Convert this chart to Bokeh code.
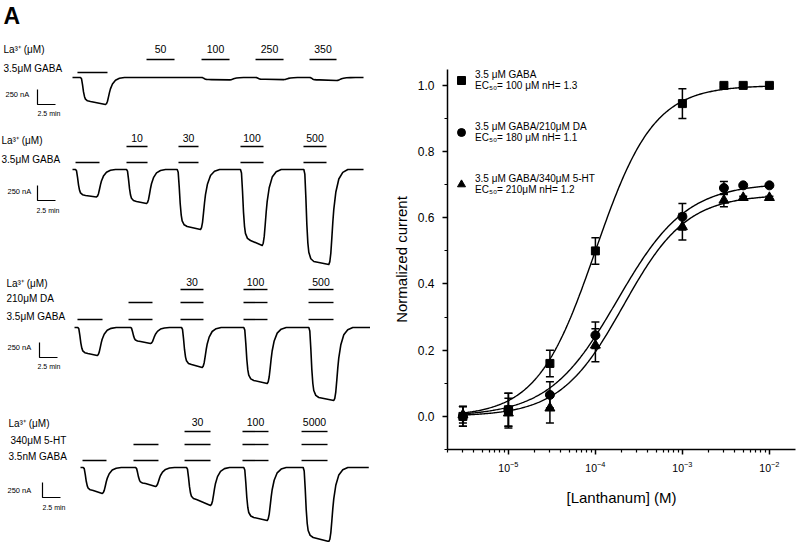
import numpy as np
from bokeh.plotting import figure
from bokeh.models import (Range1d, ColumnDataSource, Whisker, TeeHead, Legend, LegendItem,
                          FixedTicker, SingleIntervalTicker, PrintfTickFormatter, Label)
from bokeh.layouts import row
from bokeh.embed import file_html
from bokeh.resources import INLINE

FONT = "Liberation Sans"

# ---------------- Panel B data (dose-response) ----------------
LA_CONC_M = [3e-6, 1e-5, 3e-5, 1e-4, 1e-3, 3e-3, 5e-3, 1e-2]
GABA_MEAN = [0.00, 0.02, 0.16, 0.50, 0.945, 1.00, 1.00, 1.00]
GABA_SEM = [0.03, 0.05, 0.04, 0.04, 0.045, 0.004, 0.004, 0.004]
DA_MEAN = [0.00, 0.02, 0.065, 0.245, 0.603, 0.69, 0.698, 0.698]
DA_SEM = [0.03, 0.05, 0.04, 0.04, 0.04, 0.02, 0.004, 0.004]
HT_MEAN = [0.005, 0.01, 0.025, 0.215, 0.573, 0.653, 0.661, 0.661]
HT_SEM = [0.025, 0.045, 0.045, 0.05, 0.04, 0.02, 0.004, 0.004]

FIT_EC50_M = [100e-6, 180e-6, 210e-6]
FIT_NH = [1.3, 1.1, 1.2]
FIT_IMAX = [1.0, 0.705, 0.67]
SERIES_MARKERS = ["square", "circle", "triangle"]
LEGEND_LABELS = [
    "3.5 \u03bcM GABA\nEC\u2085\u2080= 100 \u03bcM nH= 1.3",
    "3.5 \u03bcM GABA/210\u03bcM DA\nEC\u2085\u2080= 180 \u03bcM nH= 1.1",
    "3.5 \u03bcM GABA/340\u03bcM 5-HT\nEC\u2085\u2080= 210\u03bcM nH= 1.2",
]
X_TICKS = [1e-5, 1e-4, 1e-3, 1e-2]

# ---------------- Panel A data (current traces) ----------------
# time in minutes, current amplitude in nA (inward, drawn downward)
TRACE_START_MIN = [0.0, 0.0, 0.28, 1.11]
TRACE_END_MIN = [40.42, 40.42, 41.63, 41.15]
RESP_ONSET_MIN = [
    [1.11, 10.28, 17.92, 25.42, 32.92],
    [0.42, 7.50, 14.54, 23.33, 32.13],
    [0.74, 8.06, 15.14, 23.79, 32.82],
    [1.49, 8.75, 15.83, 23.79, 32.04],
]
RESP_END_MIN = [
    [4.58, 14.17, 21.81, 29.31, 36.67],
    [3.33, 10.28, 17.78, 26.35, 35.60],
    [3.43, 10.83, 18.01, 27.04, 36.29],
    [4.13, 11.53, 19.17, 27.04, 35.60],
]
RESP_PEAK_EARLY_NA = [
    [400, 0, 35, 30, 40],
    [433, 533, 950, 1183, 1533],
    [433, 233, 617, 883, 1167],
    [383, 267, 533, 833, 1167],
]
RESP_PEAK_LATE_NA = [
    [450, 0, 40, 35, 50],
    [458, 567, 1000, 1267, 1583],
    [467, 267, 667, 933, 1217],
    [433, 317, 633, 883, 1233],
]
# normalised response kinetics
ONSET_DT_MIN = [0, 0.14, 0.28, 0.42, 0.56, 0.69, 0.97, 1.39]
ONSET_FRAC = [0, 0.05, 0.3, 0.6, 0.8, 0.9, 0.97, 1.0]
WASH_DT_MIN = [0.14, 0.28, 0.42, 0.56, 0.69, 0.97, 1.39, 1.94, 2.64]
WASH_FRAC = [0.97, 0.88, 0.72, 0.55, 0.42, 0.24, 0.10, 0.03, 0.0]

# drug application bars (start, end) in minutes
GABA_BARS_MIN = [
    [(0.69, 4.86)],
    [(0.42, 3.75), (7.50, 10.42), (14.72, 17.50), (23.33, 26.53), (32.08, 35.28)],
    [(0.69, 4.17), (7.78, 11.11), (15.00, 18.19), (23.75, 27.08), (32.78, 36.25)],
    [(1.39, 4.72), (8.47, 11.94), (15.56, 19.17), (23.61, 27.22), (31.81, 35.42)],
]
MOD_BARS_MIN = [
    [],
    [],
    [(7.78, 11.11), (15.00, 18.19), (23.75, 27.08), (32.78, 36.25)],
    [(8.47, 11.94), (15.56, 19.17), (23.61, 27.22), (31.81, 35.42)],
]
LA_BARS_MIN = [
    [(10.28, 14.17), (17.92, 21.81), (25.42, 29.31), (32.92, 36.67)],
    [(7.50, 10.42), (14.72, 17.50), (23.33, 26.53), (32.08, 35.28)],
    [(15.00, 18.19), (23.75, 27.08), (32.78, 36.25)],
    [(15.56, 19.17), (23.61, 27.22), (31.81, 35.42)],
]
LA_DOSE_LABELS = [
    ["50", "100", "250", "350"],
    ["10", "30", "100", "500"],
    ["30", "100", "500"],
    ["30", "100", "5000"],
]
ROW_LABELS = [
    ["La\u00b3\u207a (\u03bcM)", "3.5\u03bcM GABA"],
    ["La\u00b3\u207a (\u03bcM)", "3.5\u03bcM GABA"],
    ["La\u00b3\u207a (\u03bcM)", "210\u03bcM DA", "3.5\u03bcM GABA"],
    ["La\u00b3\u207a (\u03bcM)", "340\u03bcM 5-HT", "3.5nM GABA"],
]
SCALE_NA = 250
SCALE_MIN = 2.5
SCALE_TEXT = ["250 nA", "2.5 min"]

# ---------------- layout (page pixels) ----------------
PX_PER_MIN = 7.2
NA_PER_PX = 16.667
T0_PX = 72


def X(px):
    return (px - T0_PX) / PX_PER_MIN


def Y(py):
    return -py * NA_PER_PX


ROW_BASE_PY = [77, 169, 327, 467]
GABA_BAR_PY = [72, 162, 319, 460]
MOD_BAR_PY = [None, None, 302, 444]
LA_BAR_PY = [59, 146, 289, 431]
DOSE_LABEL_PY = [48, 137, 281, 421]
ROW_LABEL_POS = [
    [(3, 49), (3, 68)],
    [(1, 140), (1, 159)],
    [(6, 283), (6, 298), (6, 316)],
    [(8, 423), (10, 440), (8, 456)],
]
SCALEBAR_PX = [(37, 104), (37, 200), (39, 357), (42, 497)]
SCALE_NA_LABEL = [(5, 94), (7, 191), (7, 347), (7, 490)]
SCALE_MIN_LABEL = [(37, 113), (36, 210), (37, 366), (42, 507)]


def add_text(p, x, y, text, size, align="left", baseline="middle", bold=False, **kw):
    p.add_layout(Label(x=x, y=y, text=text, text_font=FONT, text_font_size=size,
                       text_align=align, text_baseline=baseline, text_color="black",
                       text_font_style="bold" if bold else "normal", **kw))


# ================= Panel A =================
W_A, W_B, H = 370, 426, 542
pA = figure(width=W_A, height=H, x_range=Range1d(X(0), X(W_A)), y_range=Range1d(Y(H), Y(0)),
            x_axis_type=None, y_axis_type=None, toolbar_location=None, output_backend="svg",
            min_border=0, outline_line_color=None)
pA.frame_align = False

add_text(pA, X(3), Y(2), "A", "23px", baseline="top", bold=True)

for r in range(4):
    # trace
    ts, cs = [TRACE_START_MIN[r]], [0.0]
    for on, off, a, b in zip(RESP_ONSET_MIN[r], RESP_END_MIN[r],
                             RESP_PEAK_EARLY_NA[r], RESP_PEAK_LATE_NA[r]):
        if a == 0 and b == 0:
            continue
        for dt, f in zip(ONSET_DT_MIN, ONSET_FRAC):
            ts.append(on + dt)
            cs.append(-a * f)
        ts.append(off)
        cs.append(-b)
        for dt, f in zip(WASH_DT_MIN, WASH_FRAC):
            ts.append(off + dt)
            cs.append(-b * f)
    ts.append(TRACE_END_MIN[r])
    cs.append(0.0)
    base = Y(ROW_BASE_PY[r])
    pA.line(np.array(ts), base + np.array(cs), line_color="black", line_width=1.6,
            line_join="round")

    # application bars
    x0s, x1s, ys = [], [], []
    for bars, lev in ((GABA_BARS_MIN[r], GABA_BAR_PY[r]), (MOD_BARS_MIN[r], MOD_BAR_PY[r]),
                      (LA_BARS_MIN[r], LA_BAR_PY[r])):
        for s, e in bars:
            x0s.append(s)
            x1s.append(e)
            ys.append(Y(lev))
    pA.segment(x0=x0s, y0=ys, x1=x1s, y1=ys, line_color="black", line_width=1.4)

    # dose labels over La bars
    for (s, e), lab in zip(LA_BARS_MIN[r], LA_DOSE_LABELS[r]):
        add_text(pA, (s + e) / 2, Y(DOSE_LABEL_PY[r]), lab, "10.5px", align="center")

    # row labels
    for (lx, ly), lab in zip(ROW_LABEL_POS[r], ROW_LABELS[r]):
        add_text(pA, X(lx), Y(ly), lab, "10px")

    # scale bar
    sx, sy = SCALEBAR_PX[r]
    x0, y0 = X(sx), Y(sy)
    pA.line([x0, x0, x0 + SCALE_MIN], [y0 + SCALE_NA, y0, y0], line_color="black",
            line_width=1.2)
    add_text(pA, X(SCALE_NA_LABEL[r][0]), Y(SCALE_NA_LABEL[r][1]), SCALE_TEXT[0], "7.5px")
    add_text(pA, X(SCALE_MIN_LABEL[r][0]), Y(SCALE_MIN_LABEL[r][1]), SCALE_TEXT[1], "7px")

# ================= Panel B =================
X_LO, X_HI = 10 ** -5.70, 10 ** -1.70
pB = figure(width=W_B, height=H, x_axis_type="log",
            x_range=Range1d(X_LO, X_HI), y_range=Range1d(-0.1, 1.048),
            toolbar_location=None, output_backend="svg",
            min_border_left=77, min_border_right=1, min_border_top=69, min_border_bottom=93,
            outline_line_color=None)
pB.frame_align = False
pB.grid.visible = False

conc = np.array(LA_CONC_M)
curve_c = np.logspace(np.log10(LA_CONC_M[0]), np.log10(LA_CONC_M[-1]), 300)
renderers = []
for mean, sem, ec50, nh, imax, mk in zip((GABA_MEAN, DA_MEAN, HT_MEAN),
                                         (GABA_SEM, DA_SEM, HT_SEM),
                                         FIT_EC50_M, FIT_NH, FIT_IMAX, SERIES_MARKERS):
    fit = imax / (1.0 + (ec50 / curve_c) ** nh)
    pB.line(curve_c, fit, line_color="black", line_width=1.4)
    m = np.array(mean)
    s = np.array(sem)
    src = ColumnDataSource(dict(x=conc, y=m, upper=m + s, lower=m - s))
    pB.add_layout(Whisker(source=src, base="x", upper="upper", lower="lower",
                          dimension="height", line_color="black", line_width=1.5,
                          upper_head=TeeHead(size=8, line_width=1.5, line_color="black"),
                          lower_head=TeeHead(size=8, line_width=1.5, line_color="black")))
    size = {"square": 8, "circle": 9, "triangle": 10}[mk]
    rr = pB.scatter("x", "y", source=src, marker=mk, size=size, fill_color="black",
                    line_color="black")
    renderers.append(rr)

legend = Legend(items=[LegendItem(label=lab, renderers=[rr])
                       for lab, rr in zip(LEGEND_LABELS, renderers)],
                location="top_left", margin=0, padding=0, spacing=30,
                glyph_width=28, glyph_height=20, label_standoff=0,
                label_text_font=FONT, label_text_font_size="10px",
                label_text_color="black",
                border_line_color=None, background_fill_alpha=0)
pB.add_layout(legend)

# axes
pB.xaxis.ticker = FixedTicker(ticks=X_TICKS,
                              minor_ticks=[k * 10.0 ** e for e in range(-6, -2)
                                           for k in range(2, 10)
                                           if X_LO < k * 10.0 ** e < X_HI])
pB.yaxis.ticker = SingleIntervalTicker(interval=0.2, num_minor_ticks=2)
pB.yaxis.formatter = PrintfTickFormatter(format="%.1f")
pB.xaxis.axis_label = "[Lanthanum] (M)"
pB.yaxis.axis_label = "Normalized current"
for ax in (pB.xaxis, pB.yaxis):
    ax.axis_line_color = "black"
    ax.axis_line_width = 1.5
    ax.major_tick_line_color = "black"
    ax.major_tick_line_width = 1.5
    ax.minor_tick_line_color = "black"
    ax.minor_tick_line_width = 1.2
    ax.major_tick_in = 0
    ax.major_tick_out = 5
    ax.minor_tick_in = 0
    ax.minor_tick_out = 3
    ax.major_label_text_font = FONT
    ax.major_label_text_color = "black"
    ax.axis_label_text_font = FONT
    ax.axis_label_text_font_style = "normal"
    ax.axis_label_text_font_size = "15px"
    ax.axis_label_text_color = "black"
pB.yaxis.major_label_text_font_size = "12px"
pB.xaxis.major_label_text_font_size = "10.5px"
pB.yaxis.major_label_standoff = 8
pB.xaxis.major_label_standoff = 6
pB.yaxis.axis_label_standoff = 5
pB.xaxis.axis_label_standoff = 14

add_text(pB, -47, 446, "B", "23px", baseline="top", bold=True,
         x_units="screen", y_units="screen")

layout = row(pA, pB)
open("out.html", "w").write(file_html(layout, INLINE))
